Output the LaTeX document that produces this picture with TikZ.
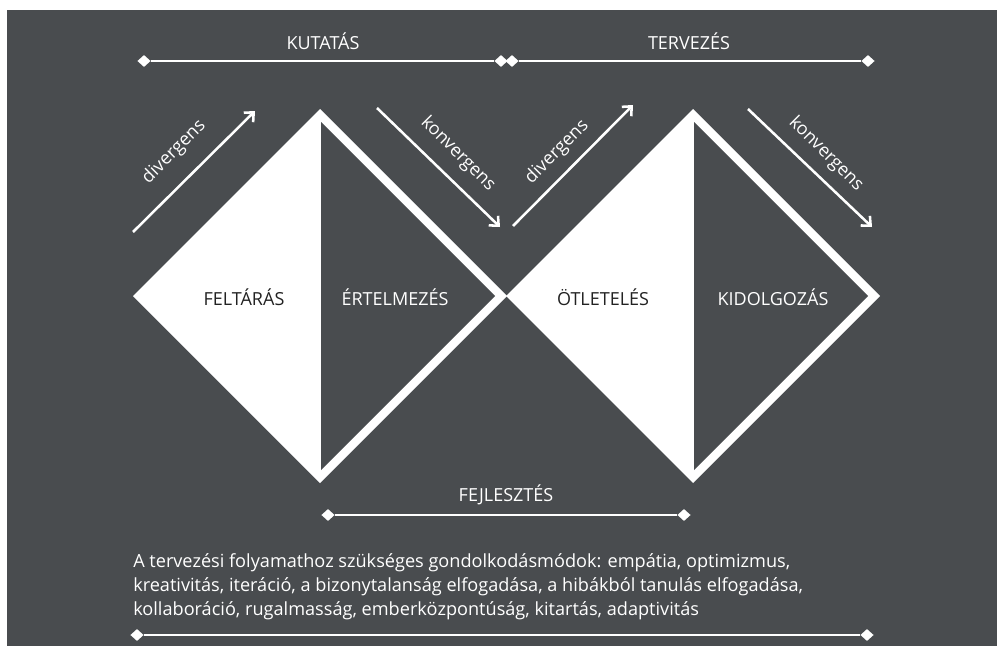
\documentclass[tikz,border=0pt]{standalone}
\usepackage{fontspec}
\setmainfont{Open Sans}
\usetikzlibrary{arrows.meta,shapes.geometric}
\definecolor{slate}{RGB}{73,76,79}
\definecolor{ink}{RGB}{34,34,34}
\begin{document}
\begin{tikzpicture}[x=0.75pt,y=-0.75pt,
  tick/.style={diamond,fill=white,inner sep=0pt,minimum width=10pt,minimum height=9pt},
  tline/.style={white,line width=2.2pt},
  flow/.style={white,line width=1.9pt,-{Straight Barb[length=5.5pt,width=10pt,line width=1.9pt]}},
  lbl/.style={text=white,font=\fontsize{13.5}{16}\selectfont,inner sep=0pt},
  dlbl/.style={text=ink,font=\fontsize{13.5}{16}\selectfont,inner sep=0pt}]
\useasboundingbox (0,0) rectangle (997,646);
\fill[white] (0,0) rectangle (997,646);
\fill[slate] (7,10) rectangle (997,646);

% phase timelines
\node[tick] (k1) at (144,61) {};
\node[tick] (k2) at (501,61) {};
\node[tick] (t1) at (512,61) {};
\node[tick] (t2) at (868,61) {};
\draw[tline] (k1) -- (k2);
\draw[tline] (t1) -- (t2);
\node[lbl] (kut) at (323,41) {KUTATÁS};
\node[lbl] (ter) at (689,41) {TERVEZÉS};

\node[tick] (f1) at (328,515) {};
\node[tick] (f2) at (684,515) {};
\draw[tline] (f1) -- (f2);
\node[lbl] (fej) at (506,495) {FEJLESZTÉS};

\node[tick] (b1) at (137,635) {};
\node[tick] (b2) at (867,635) {};
\draw[tline] (b1) -- (b2);

% double diamond
\fill[white] (133,296) -- (320,109) -- (507,296) -- (320,483) -- cycle;
\fill[slate] (321,122) -- (495,296) -- (321,470) -- cycle;
\fill[white] (506,296) -- (693,109) -- (880,296) -- (693,483) -- cycle;
\fill[slate] (694,122) -- (868,296) -- (694,470) -- cycle;

\node[dlbl] (fel) at (244,297) {FELTÁRÁS};
\node[lbl] (ert) at (395,297) {ÉRTELMEZÉS};
\node[dlbl] (otl) at (603,297) {ÖTLETELÉS};
\node[lbl] (kid) at (773,297) {KIDOLGOZÁS};

% divergent / convergent arrows
\coordinate (a1s) at (133,232); \coordinate (a1e) at (255,111);
\coordinate (a2s) at (377,108); \coordinate (a2e) at (500,227);
\coordinate (a3s) at (513,226); \coordinate (a3e) at (633,105);
\coordinate (a4s) at (748,109); \coordinate (a4e) at (872,227);
\draw[flow] (a1s) -- (a1e);
\draw[flow] (a2s) -- (a2e);
\draw[flow] (a3s) -- (a3e);
\draw[flow] (a4s) -- (a4e);
\node[lbl,rotate=45] (l1) at (174,152) {divergens};
\node[lbl,rotate=-45] (l2) at (458,154) {konvergens};
\node[lbl,rotate=45] (l3) at (557,152) {divergens};
\node[lbl,rotate=-45] (l4) at (826,154) {konvergens};

% mindsets
\node[text=white,font=\fontsize{13.6}{18}\selectfont,align=left,anchor=base west,inner sep=0pt] (txt) at (133,615)
  {A tervezési folyamathoz szükséges gondolkodásmódok: empátia, optimizmus,\\
   kreativitás, iteráció, a bizonytalanság elfogadása, a hibákból tanulás elfogadása,\\
   kollaboráció, rugalmasság, emberközpontúság, kitartás, adaptivitás};
\end{tikzpicture}
\end{document}
